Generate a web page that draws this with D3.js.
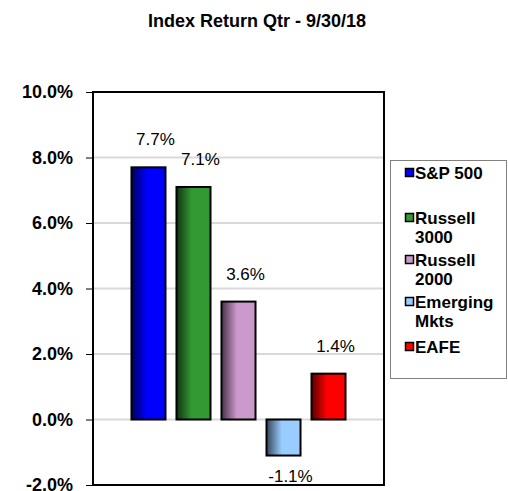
<!DOCTYPE html>
<html>
<head>
<meta charset="utf-8">
<script src="https://cdn.jsdelivr.net/npm/d3@7"></script>
<style>
  body { margin: 0; background: #fff; }
  svg { font-family: "Liberation Sans", Arial, sans-serif; }
  .ytick text { font-weight: bold; font-size: 18px; fill: #000; }
  .label { font-size: 17px; fill: #000; }
  .legend text { font-weight: bold; font-size: 17px; fill: #000; }
</style>
</head>
<body>
<div id="chart"></div>
<script>
// data
var categories = ["S&P 500", "Russell 3000", "Russell 2000", "Emerging Mkts", "EAFE"];
var values = [7.7, 7.1, 3.6, -1.1, 1.4];
var colors = ["#0000ff", "#339933", "#cc99cc", "#99ccff", "#ff0000"];
var legendLines = [["S&P 500", ""], ["Russell", "3000"], ["Russell", "2000"], ["Emerging", "Mkts"], ["EAFE"]];
var yTicks = [-2, 0, 2, 4, 6, 8, 10];

var W = 508, H = 491;
var plot = { left: 93, top: 92, right: 384, bottom: 485 };

var svg = d3.select("#chart")
    .append("svg")
    .attr("width", W)
    .attr("height", H);

// gradients: dark at the left edge going into the colour
var defs = svg.append("defs");
colors.forEach(function (c, i) {
    var g = defs.append("linearGradient")
        .attr("id", "grad" + i)
        .attr("x1", "0%").attr("x2", "100%")
        .attr("y1", "0%").attr("y2", "0%");
    g.append("stop").attr("offset", "0%").attr("stop-color", d3.color(c).darker(3));
    g.append("stop").attr("offset", "45%").attr("stop-color", c);
    g.append("stop").attr("offset", "100%").attr("stop-color", c);
});

// title
svg.append("text")
    .attr("x", 257)
    .attr("y", 27)
    .attr("text-anchor", "middle")
    .style("font-weight", "bold")
    .style("font-size", "18px")
    .text("Index Return Qtr - 9/30/18");

var x = d3.scaleBand()
    .domain(categories)
    .range([plot.left, plot.right])
    .paddingInner(0.244)
    .paddingOuter(0.855);

var y = d3.scaleLinear()
    .domain([-2, 10])
    .range([plot.bottom, plot.top]);

// gridlines
svg.append("g")
    .selectAll("line")
    .data(yTicks.filter(function (d) { return d > -2 && d < 10; }))
    .enter()
    .append("line")
    .attr("x1", plot.left)
    .attr("x2", plot.right)
    .attr("y1", function (d) { return y(d); })
    .attr("y2", function (d) { return y(d); })
    .attr("stroke", "#d9d9d9")
    .attr("stroke-width", 2);

// y axis
var yAxis = svg.append("g")
    .attr("class", "ytick")
    .attr("transform", "translate(" + plot.left + ",0)")
    .call(d3.axisLeft(y)
        .tickValues(yTicks)
        .tickSize(7)
        .tickPadding(13)
        .tickFormat(function (d) { return d.toFixed(1) + "%"; }));
yAxis.select(".domain").remove();
yAxis.selectAll(".tick line").attr("stroke", "#000").attr("stroke-width", 1);
yAxis.selectAll(".tick text").attr("font-family", null).attr("font-size", null);

// bars
svg.append("g")
    .selectAll("rect")
    .data(values)
    .enter()
    .append("rect")
    .attr("x", function (d, i) { return x(categories[i]); })
    .attr("width", x.bandwidth())
    .attr("y", function (d) { return y(Math.max(d, 0)); })
    .attr("height", function (d) { return Math.abs(y(d) - y(0)); })
    .attr("fill", function (d, i) { return "url(#grad" + i + ")"; })
    .attr("stroke", "#000")
    .attr("stroke-width", 2);

// value labels
svg.append("g")
    .selectAll("text")
    .data(values)
    .enter()
    .append("text")
    .attr("class", "label")
    .attr("text-anchor", "middle")
    .attr("x", function (d, i) { return x(categories[i]) + x.bandwidth() / 2 + 7; })
    .attr("y", function (d) { return d >= 0 ? y(d) - 22 : y(d) + 26; })
    .text(function (d) { return d.toFixed(1) + "%"; });

// plot border
svg.append("rect")
    .attr("x", plot.left)
    .attr("y", plot.top)
    .attr("width", plot.right - plot.left)
    .attr("height", plot.bottom - plot.top)
    .attr("fill", "none")
    .attr("stroke", "#000")
    .attr("stroke-width", 2);

// legend
var legend = svg.append("g").attr("class", "legend");
legend.append("rect")
    .attr("x", 390.5)
    .attr("y", 160.5)
    .attr("width", 116)
    .attr("height", 218)
    .attr("fill", "#fff")
    .attr("stroke", "#808080")
    .attr("stroke-width", 1);

var itemY = [173, 218, 260, 302, 347];
var item = legend.selectAll(".item")
    .data(categories)
    .enter()
    .append("g")
    .attr("class", "item")
    .attr("transform", function (d, i) { return "translate(405," + itemY[i] + ")"; });

item.append("rect")
    .attr("x", 0.5)
    .attr("y", -4.5)
    .attr("width", 8)
    .attr("height", 8)
    .attr("fill", function (d, i) { return colors[i]; })
    .attr("stroke", "#000")
    .attr("stroke-width", 1.5);

item.append("text")
    .attr("x", 10)
    .attr("y", 6)
    .selectAll("tspan")
    .data(function (d, i) { return legendLines[i]; })
    .enter()
    .append("tspan")
    .attr("x", 10)
    .attr("dy", function (d, j) { return j === 0 ? 0 : 19; })
    .text(function (d) { return d; });
</script>
</body>
</html>
